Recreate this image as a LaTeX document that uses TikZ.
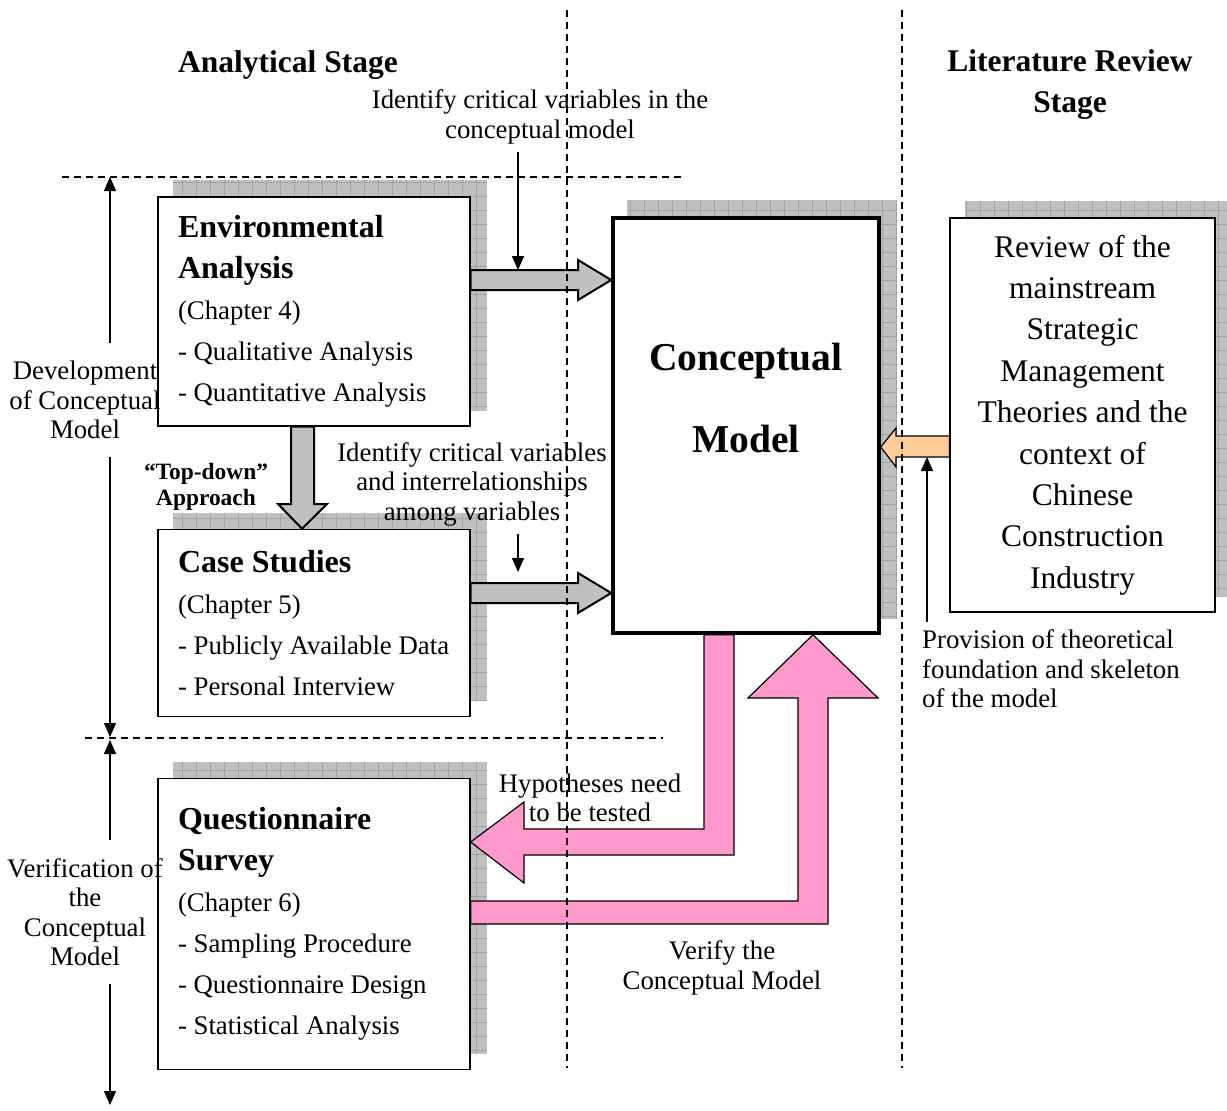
\documentclass[tikz,border=0pt]{standalone}
\usepackage{fontspec}
\setmainfont{Liberation Serif}
\usetikzlibrary{arrows.meta, calc, positioning, backgrounds}

\definecolor{shadegray}{HTML}{C0C0C0}
\definecolor{gridgray}{HTML}{A2A2A2}
\definecolor{arrowgray}{HTML}{C0C0C0}
\definecolor{pinkfill}{HTML}{FF99CC}
\definecolor{orangefill}{HTML}{FFCC99}

% grey grid shadow behind a box
\newcommand{\boxshadow}[1]{%
  \fill[shadegray] ($(#1.south west)+(16,-16)$) rectangle ($(#1.north east)+(16,-16)$);
  \draw[gridgray, line width=0.5pt, step=14pt] ($(#1.south west)+(16,-16)$) grid ($(#1.north east)+(16,-16)$);
}

\begin{document}
\begin{tikzpicture}[x=1pt, y=-1pt]
    \tikzset{
        > = {Triangle[length=14pt, width=12pt]},
        box/.style = {rectangle, draw=black, fill=white, line width=1.3pt,
                      text width=272pt, inner xsep=20pt, inner ysep=0pt, align=flush left,
                      font=\fontsize{26.8}{41}\selectfont},
        modelbox/.style = {rectangle, draw=black, fill=white, line width=3.5pt,
                           minimum width=266pt, minimum height=415pt},
        modelname/.style = {align=center, inner sep=0pt, font=\fontsize{39.5}{82}\selectfont\bfseries},
        litbox/.style = {rectangle, draw=black, fill=white, line width=1.3pt,
                         minimum width=265pt, minimum height=394pt, align=center,
                         font=\fontsize{31.5}{41.4}\selectfont},
        stage/.style = {align=center, inner sep=0pt, font=\fontsize{31.5}{41}\selectfont\bfseries},
        note/.style = {align=center, inner xsep=0pt, inner ysep=8pt, font=\fontsize{26.8}{29.5}\selectfont},
        side/.style = {align=center, inner xsep=0pt, inner ysep=18pt, font=\fontsize{26.8}{29.5}\selectfont},
        greyarrow/.style = {draw=black, line width=2pt, fill=arrowgray, line join=miter},
        pinkarrow/.style = {draw=black, line width=1.2pt, fill=pinkfill, line join=miter},
        orangearrow/.style = {draw=black, line width=1.2pt, fill=orangefill, line join=miter},
        pointer/.style = {->, line width=1.3pt},
        guide/.style = {line width=1.3pt, dash pattern=on 7pt off 5pt}
    }
    \useasboundingbox (0,0) rectangle (1227,1111);

    % stage titles
    \node[stage] (analytical) at (288,65) {Analytical Stage};
    \node[stage] (literature) at (1070,85) {Literature Review\\Stage};

    % analytical boxes
    \node[box, minimum height=229pt] (env) at (314,311.5)
        {{\fontsize{32}{41}\selectfont\bfseries Environmental\\Analysis}\\(Chapter 4)\\- Qualitative Analysis\\- Quantitative Analysis};
    \node[box, minimum height=187pt, below=102pt of env] (case)
        {{\fontsize{32}{41}\selectfont\bfseries Case Studies}\\(Chapter 5)\\- Publicly Available Data\\- Personal Interview};
    \node[box, minimum height=291pt, below=61pt of case] (quest)
        {{\fontsize{32}{41}\selectfont\bfseries Questionnaire\\Survey}\\(Chapter 6)\\- Sampling Procedure\\- Questionnaire Design\\- Statistical Analysis};

    % model and literature
    \node[modelbox] (concept) at (746,425.5) {};
    \node[modelname] (conceptname) at ([yshift=28pt]concept.center) {Conceptual\\Model};
    \node[litbox] (lit) at (1082.5,415)
        {Review of the\\mainstream\\Strategic\\Management\\Theories and the\\context of\\Chinese\\Construction\\Industry};

    % shadows
    \begin{scope}[on background layer]
        \boxshadow{env}
        \boxshadow{case}
        \boxshadow{quest}
        \boxshadow{concept}
        \boxshadow{lit}
    \end{scope}

    % grey arrows
    \draw[greyarrow] (env.east |- 0,270) -- (578,270) -- (578,260) -- (concept.west |- 0,280)
        -- (578,300) -- (578,290) -- (env.east |- 0,290) -- cycle;
    \draw[greyarrow] (case.east |- 0,583) -- (578,583) -- (578,573) -- (concept.west |- 0,593)
        -- (578,613) -- (578,603) -- (case.east |- 0,603) -- cycle;
    \draw[greyarrow] (291,0 |- env.south) -- (291,504) -- (278,504) -- (302,0 |- case.north)
        -- (327,504) -- (314,504) -- (314,0 |- env.south) -- cycle;

    % pink arrows
    \draw[pinkarrow] (704,0 |- concept.south) -- (704,829) -- (524,829) -- (524,802)
        -- (quest.east |- 0,842) -- (524,883) -- (524,855) -- (734,855) -- (734,0 |- concept.south) -- cycle;
    \draw[pinkarrow] (quest.east |- 0,901) -- (798,901) -- (798,698) -- (748,698)
        -- (813,0 |- concept.south) -- (878,698) -- (828,698) -- (828,924) -- (quest.east |- 0,924) -- cycle;

    % orange arrow
    \draw[orangearrow] (lit.west |- 0,436) -- (896,436) -- (896,428) -- (concept.east |- 0,447)
        -- (896,467) -- (896,457) -- (lit.west |- 0,457) -- cycle;

    % notes
    \node[note] (idnote) at (540,117) {Identify critical variables in the\\conceptual model};
    \node[note] (relnote) at (472,484) {Identify critical variables\\and interrelationships\\among variables};
    \node[note, font=\fontsize{23.4}{26}\selectfont\bfseries] (topdown) at (206,487) {“Top-down”\\Approach};
    \node[note] (hyponote) at (590,798) {Hypotheses need\\to be tested};
    \node[note] (verinote) at (722,968) {Verify the\\Conceptual Model};
    \node[note, align=left, anchor=west] (provnote) at (922,669) {Provision of theoretical\\foundation and skeleton\\of the model};

    \draw[pointer] (idnote.south -| 518,0) -- (518,270);
    \draw[pointer] (relnote.south -| 518,0) -- (518,572);
    \draw[pointer] (provnote.north -| 927,0) -- (927,457);

    % left side ranges
    \node[side] (devnote) at (85,400) {Development\\of Conceptual\\Model};
    \node[side] (vernote) at (85,912) {Verification of\\the\\Conceptual\\Model};
    \coordinate (devtop) at (110,177);
    \coordinate (devbot) at (110,737);
    \coordinate (vertop) at (110,740);
    \coordinate (verbot) at (110,1105);
    \draw[pointer] (devnote.north -| devtop) -- (devtop);
    \draw[pointer] (devnote.south -| devtop) -- (devbot);
    \draw[pointer] (vernote.north -| vertop) -- (vertop);
    \draw[pointer] (vernote.south -| vertop) -- (verbot);

    % dashed guides
    \draw[guide] (567,10) -- (567,1068);
    \draw[guide] (902,10) -- (902,1068);
    \draw[guide] (62,177) -- (686,177);
    \draw[guide] (85,738) -- (663,738);
\end{tikzpicture}
\end{document}
